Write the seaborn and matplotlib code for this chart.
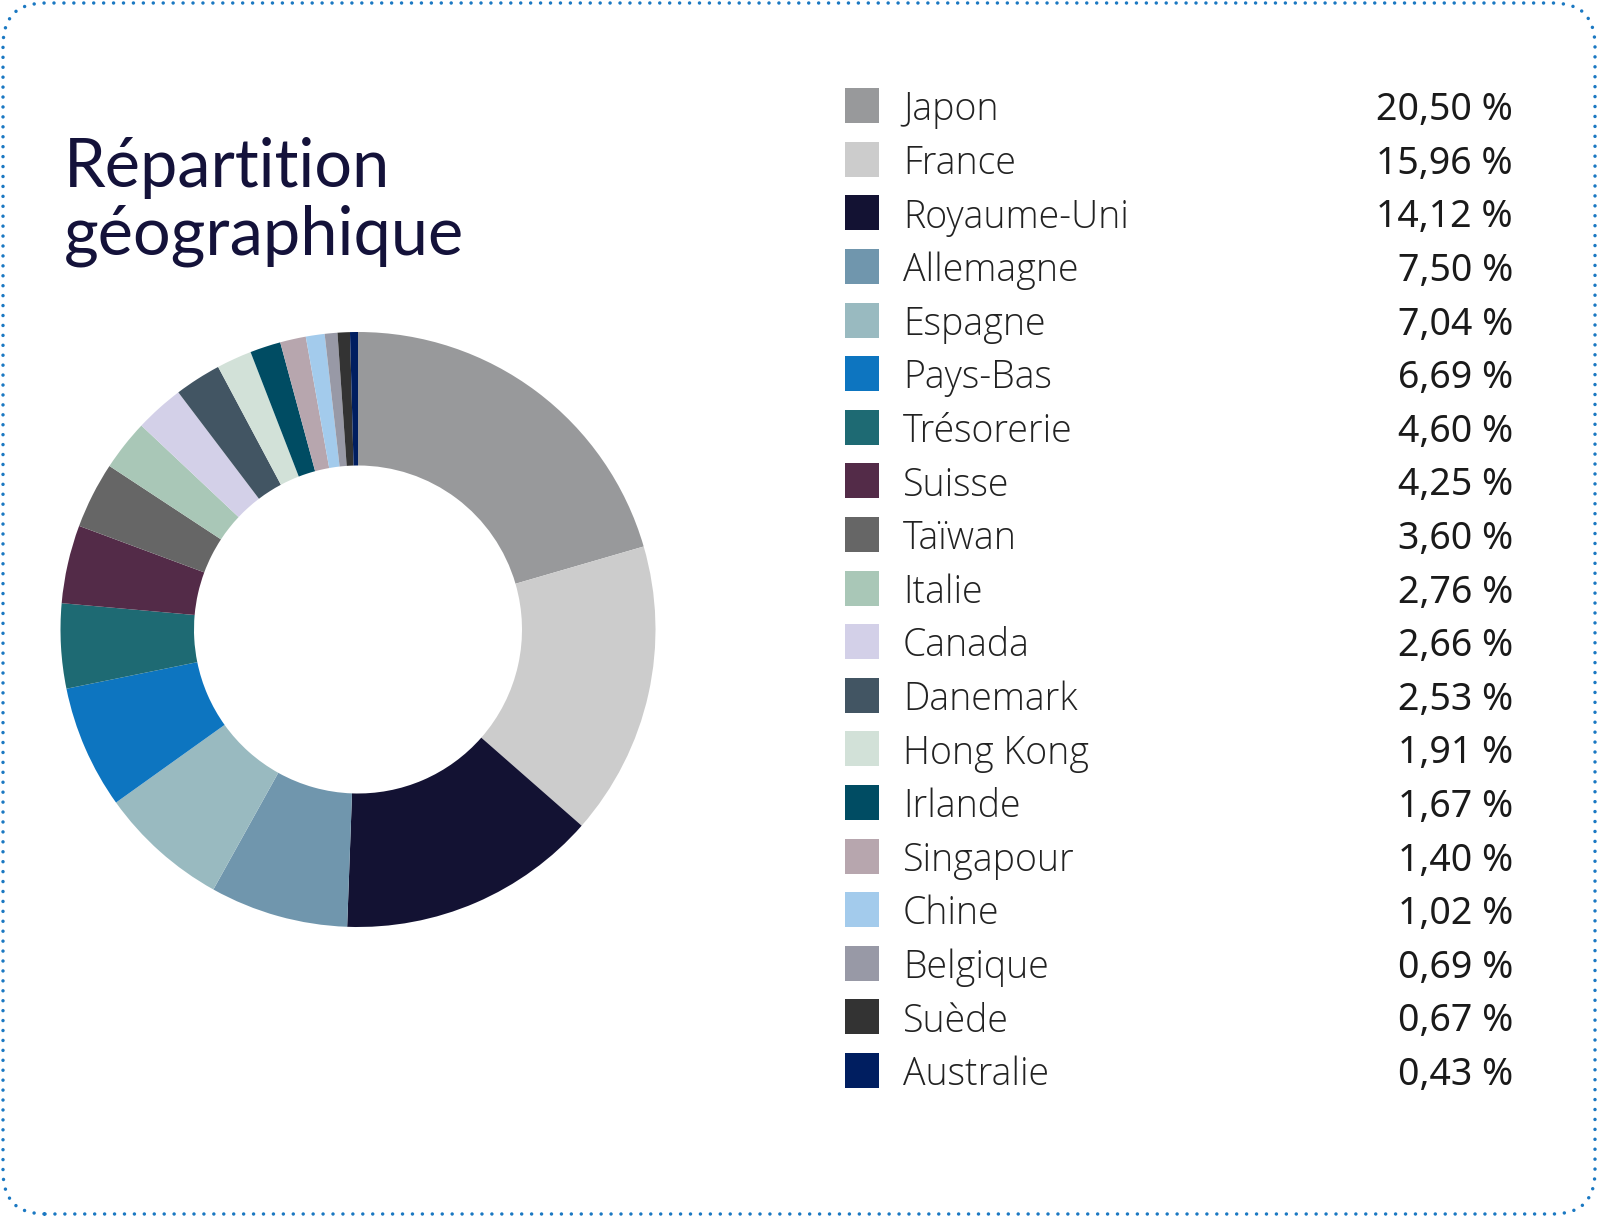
import matplotlib
matplotlib.use("Agg")
import matplotlib.pyplot as plt
import matplotlib.patches as mpatches
import matplotlib.transforms as mtransforms
import seaborn as sns

# Data
countries = ["Japon", "France", "Royaume-Uni", "Allemagne", "Espagne", "Pays-Bas",
             "Trésorerie", "Suisse", "Taïwan", "Italie", "Canada", "Danemark",
             "Hong Kong", "Irlande", "Singapour", "Chine", "Belgique", "Suède",
             "Australie"]
weights = [20.50, 15.96, 14.12, 7.50, 7.04, 6.69, 4.60, 4.25, 3.60, 2.76, 2.66,
           2.53, 1.91, 1.67, 1.40, 1.02, 0.69, 0.67, 0.43]
value_labels = ["20,50 %", "15,96 %", "14,12 %", "7,50 %", "7,04 %", "6,69 %",
                "4,60 %", "4,25 %", "3,60 %", "2,76 %", "2,66 %", "2,53 %",
                "1,91 %", "1,67 %", "1,40 %", "1,02 %", "0,69 %", "0,67 %",
                "0,43 %"]
colors = ["#98999b", "#cccccc", "#131233", "#7096ad", "#99bac0", "#0d75c0",
          "#1e6a73", "#532b48", "#666666", "#a9c7b7", "#d3d0e8", "#425563",
          "#d2e1d8", "#004c63", "#b7a6ae", "#a3cbec", "#9899a6", "#333333",
          "#001e60"]
title = "Répartition\ngéographique"

sns.set_theme(style="white")
palette = sns.color_palette(colors)

W, H = 1597, 1217
fig = plt.figure(figsize=(W / 100, H / 100), dpi=100)
fig.patch.set_facecolor("white")

# Donut
cx, cy, r_out, r_in = 358, 629.5, 297.5, 164
ax = fig.add_axes([(cx - r_out) / W, (H - cy - r_out) / H, 2 * r_out / W, 2 * r_out / H])
ax.pie(weights, colors=palette, startangle=90, counterclock=False, radius=1,
       wedgeprops=dict(width=1 - r_in / r_out, edgecolor="none", linewidth=0))
ax.set_xlim(-1, 1)
ax.set_ylim(-1, 1)
ax.set_aspect("equal")
ax.axis("off")

# Title (anchored on the baseline of its second line)
fig.text(64 / W, 1 - 254 / H, title, family=["Lato", "DejaVu Sans"], fontsize=48,
         fontweight="normal", color="#14123a", va="baseline", ha="left",
         linespacing=1.1)

# Legend table
row0, pitch = 105.7, 53.6
for i, (name, val, col) in enumerate(zip(countries, value_labels, palette)):
    yc = row0 + i * pitch
    fig.patches.append(mpatches.Rectangle((845, H - yc - 17.5), 34, 35, facecolor=col,
                                          edgecolor="none",
                                          transform=mtransforms.IdentityTransform(),
                                          figure=fig))
    fig.text(903 / W, 1 - yc / H, name, family=["Open Sans", "DejaVu Sans"],
             fontweight="light", fontsize=27, color="#222222", va="center_baseline",
             ha="left")
    fig.text(1513 / W, 1 - yc / H, val, family=["Noto Sans", "DejaVu Sans"],
             fontweight="medium", fontsize=27, color="#1a1a1a", va="center_baseline",
             ha="right")

# Dotted rounded border
border = mpatches.FancyBboxPatch((3, 3), 1592, 1211,
                                 boxstyle="round,pad=0,rounding_size=42",
                                 facecolor="none", edgecolor="#1a78c2", linewidth=2.5,
                                 linestyle=(0, (0.01, 2.85)), capstyle="round",
                                 transform=mtransforms.IdentityTransform(), figure=fig)
fig.patches.append(border)

fig.savefig("out.png", dpi=100, facecolor="white")
